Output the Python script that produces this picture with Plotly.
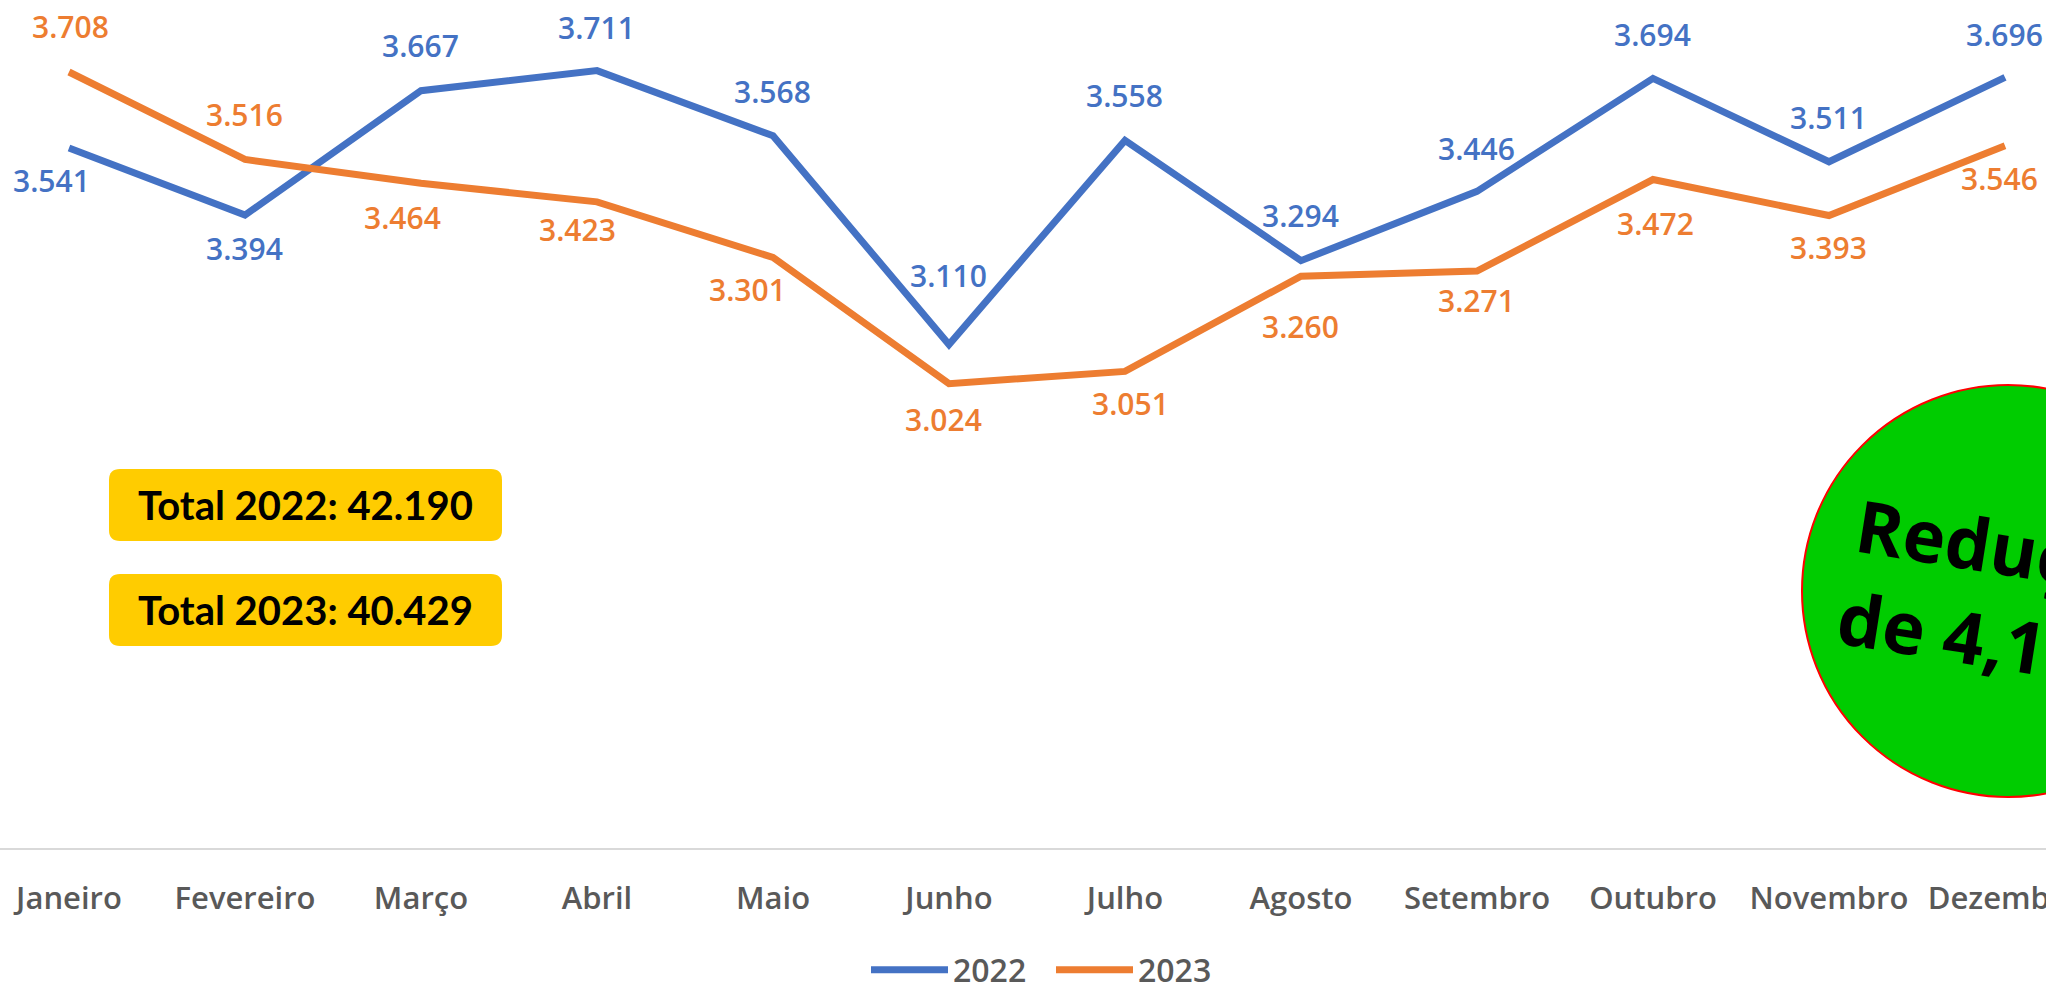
import plotly.graph_objects as go

# ---- data ----
meses = ["Janeiro", "Fevereiro", "Março", "Abril", "Maio", "Junho",
         "Julho", "Agosto", "Setembro", "Outubro", "Novembro", "Dezembro"]
v2022 = [3541, 3394, 3667, 3711, 3568, 3110, 3558, 3294, 3446, 3694, 3511, 3696]
v2023 = [3708, 3516, 3464, 3423, 3301, 3024, 3051, 3260, 3271, 3472, 3393, 3546]
total_2022 = 42190
total_2023 = 40429
reducao_txt = "Redução<br>de 4,17%"

# ---- label offsets in px (dx, dy up) ----
off2022 = [(-17, -32), (0, -33), (0, 45), (0, 43), (0, 44), (0, 69),
           (0, 45), (0, 45), (0, 43), (0, 44), (0, 44), (0, 43)]
off2023 = [(2, 46), (0, 45), (-18, -34), (-19, -28), (-25, -32), (-5, -36),
           (6, -32), (0, -50), (0, -29), (3, -44), (0, -32), (-5, -33)]

W, H = 2046, 987
PLOT_BOTTOM = 848  # px from top where the x axis sits

BLUE = "#4472C4"
ORANGE = "#ED7D31"
GRAY = "#595959"
LBL_FONT = "Open Sans"


def fmt(v):
    return f"{v:,}".replace(",", ".")


def px_x(px):
    return px / W


def px_y(py):
    return (PLOT_BOTTOM - py) / PLOT_BOTTOM


def rounded_rect(x0, y0, x1, y1, r):
    X = lambda v: f"{px_x(v):.6f}"
    Y = lambda v: f"{px_y(v):.6f}"
    return (f"M{X(x0 + r)},{Y(y0)} L{X(x1 - r)},{Y(y0)} Q{X(x1)},{Y(y0)} {X(x1)},{Y(y0 + r)} "
            f"L{X(x1)},{Y(y1 - r)} Q{X(x1)},{Y(y1)} {X(x1 - r)},{Y(y1)} "
            f"L{X(x0 + r)},{Y(y1)} Q{X(x0)},{Y(y1)} {X(x0)},{Y(y1 - r)} "
            f"L{X(x0)},{Y(y0 + r)} Q{X(x0)},{Y(y0)} {X(x0 + r)},{Y(y0)} Z")


fig = go.Figure()
fig.add_trace(go.Scatter(x=meses, y=v2022, name="2022", mode="lines",
                         line=dict(color=BLUE, width=7)))
fig.add_trace(go.Scatter(x=meses, y=v2023, name="2023", mode="lines",
                         line=dict(color=ORANGE, width=7)))

annotations = []
for m, v, (dx, dy) in zip(meses, v2022, off2022):
    annotations.append(dict(x=m, y=v, xref="x", yref="y", text=fmt(v), showarrow=False,
                            xshift=dx, yshift=dy,
                            font=dict(family=LBL_FONT, size=30, color=BLUE, weight=600)))
for m, v, (dx, dy) in zip(meses, v2023, off2023):
    annotations.append(dict(x=m, y=v, xref="x", yref="y", text=fmt(v), showarrow=False,
                            xshift=dx, yshift=dy,
                            font=dict(family=LBL_FONT, size=30, color=ORANGE, weight=600)))

# total boxes
shapes = []
boxes = [(f"Total 2022: {fmt(total_2022)}", 469, 541),
         (f"Total 2023: {fmt(total_2023)}", 574, 646)]
for txt, y0, y1 in boxes:
    shapes.append(dict(type="path", xref="paper", yref="paper",
                       path=rounded_rect(109, y0, 502, y1, 11),
                       fillcolor="#FFCC00", line=dict(width=0), layer="above"))
    annotations.append(dict(x=px_x((109 + 502) / 2), y=px_y((y0 + y1) / 2),
                            xref="paper", yref="paper", text=f"<b>{txt}</b>",
                            showarrow=False, xanchor="center", yanchor="middle",
                            font=dict(family="Lato", size=40, color="#000000")))

# green circle
cx, cy, r = 2008, 591, 206
shapes.append(dict(type="circle", xref="paper", yref="paper",
                   x0=px_x(cx - r), x1=px_x(cx + r), y0=px_y(cy + r), y1=px_y(cy - r),
                   fillcolor="#00CC00", line=dict(color="#FF0000", width=2), layer="above"))
annotations.append(dict(x=px_x(2002), y=px_y(594), xref="paper", yref="paper",
                        text=f"<b>{reducao_txt}</b>", showarrow=False, textangle=9,
                        xanchor="center", yanchor="middle",
                        font=dict(family="Open Sans", size=72, color="#000000")))

fig.update_layout(
    width=W, height=H,
    margin=dict(l=0, r=0, t=0, b=H - PLOT_BOTTOM, pad=0, autoexpand=False),
    paper_bgcolor="white", plot_bgcolor="white",
    showlegend=True,
    legend=dict(orientation="h", x=px_x(866), xanchor="left", y=px_y(970), yanchor="middle",
                font=dict(family=LBL_FONT, size=32, color=GRAY, weight=600),
                itemwidth=77, entrywidth=93, entrywidthmode="pixels",
                bgcolor="rgba(0,0,0,0)"),
    annotations=annotations,
    shapes=shapes,
)
fig.update_xaxes(type="category", range=[-0.392, 11.233], showline=True, linecolor="#D9D9D9",
                 linewidth=2, showgrid=False, zeroline=False, ticks="", automargin=False,
                 tickfont=dict(family=LBL_FONT, size=31, color=GRAY, weight=600),
                 ticklabelstandoff=22, ticklabeloverflow="allow")
fig.update_yaxes(range=[2005, 3866], visible=False, showgrid=False, zeroline=False,
                 automargin=False)

fig.write_html("out.html", config={"displayModeBar": False},
               post_script="document.body.style.margin='0';")
